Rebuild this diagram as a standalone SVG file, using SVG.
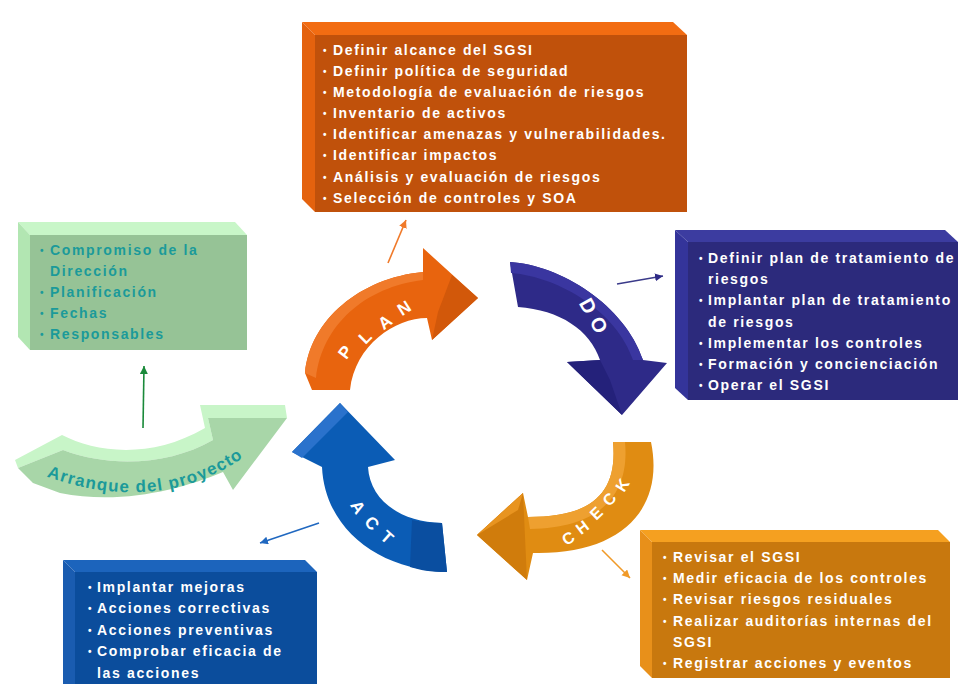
<svg xmlns="http://www.w3.org/2000/svg" width="961" height="684" viewBox="0 0 961 684">
<style>
  .t{font-family:"Liberation Sans",Arial,sans-serif;font-weight:bold;font-size:14px;letter-spacing:1.65px;fill:#ffffff}
  .b{font-family:"Liberation Sans",Arial,sans-serif;font-weight:bold;font-size:10px;fill:#ffffff}
  .g{fill:#1b9a9a}
  .lbl{font-family:"Liberation Sans",Arial,sans-serif;font-weight:bold;font-size:17px;fill:#ffffff;text-anchor:middle}
  .con{fill:none;stroke-width:1.6}
</style>
<defs>
  <marker id="mOr" markerUnits="userSpaceOnUse" markerWidth="9" markerHeight="9" refX="8" refY="4" orient="auto"><path d="M0,0 L8,4 L0,8 Z" fill="#f07a2a"/></marker>
  <marker id="mNv" markerUnits="userSpaceOnUse" markerWidth="9" markerHeight="9" refX="8" refY="4" orient="auto"><path d="M0,0 L8,4 L0,8 Z" fill="#2e2a86"/></marker>
  <marker id="mOr2" markerUnits="userSpaceOnUse" markerWidth="9" markerHeight="9" refX="8" refY="4" orient="auto"><path d="M0,0 L8,4 L0,8 Z" fill="#f09a28"/></marker>
  <marker id="mBl" markerUnits="userSpaceOnUse" markerWidth="9" markerHeight="9" refX="8" refY="4" orient="auto"><path d="M0,0 L8,4 L0,8 Z" fill="#2068c0"/></marker>
  <marker id="mGr" markerUnits="userSpaceOnUse" markerWidth="9" markerHeight="9" refX="8" refY="4" orient="auto"><path d="M0,0 L8,4 L0,8 Z" fill="#1a8a3a"/></marker>
</defs>
<rect width="961" height="684" fill="#ffffff"/>

<!-- PLAN box -->
<g id="box-plan">
  <polygon points="302,22 673,22 687,35 315,35" fill="#f26c12"/>
  <polygon points="302,22 315,35 315,212 302,199" fill="#e4620e"/>
  <rect x="315" y="35" width="372" height="177" fill="#c0510b"/>
  <text class="b" x="323" y="54">•</text><text class="t" x="333" y="55">Definir alcance del SGSI</text>
  <text class="b" x="323" y="75">•</text><text class="t" x="333" y="76">Definir política de seguridad</text>
  <text class="b" x="323" y="96">•</text><text class="t" x="333" y="97">Metodología de evaluación de riesgos</text>
  <text class="b" x="323" y="117">•</text><text class="t" x="333" y="118">Inventario de activos</text>
  <text class="b" x="323" y="138">•</text><text class="t" x="333" y="139">Identificar amenazas y vulnerabilidades.</text>
  <text class="b" x="323" y="159">•</text><text class="t" x="333" y="160">Identificar impactos</text>
  <text class="b" x="323" y="181">•</text><text class="t" x="333" y="182">Análisis y evaluación de riesgos</text>
  <text class="b" x="323" y="202">•</text><text class="t" x="333" y="203">Selección de controles y SOA</text>
</g>

<!-- Start box -->
<g id="box-start">
  <polygon points="18,222 235,222 247,235 30,235" fill="#c8f6c8"/>
  <polygon points="18,222 30,235 30,350 18,337" fill="#b2e6b2"/>
  <rect x="30" y="235" width="217" height="115" fill="#96c396"/>
  <text class="b g" x="40" y="254">•</text><text class="t g" x="50" y="255">Compromiso de la</text>
  <text class="t g" x="50" y="276">Dirección</text>
  <text class="b g" x="40" y="296">•</text><text class="t g" x="50" y="297">Planificación</text>
  <text class="b g" x="40" y="317">•</text><text class="t g" x="50" y="318">Fechas</text>
  <text class="b g" x="40" y="338">•</text><text class="t g" x="50" y="339">Responsables</text>
</g>

<!-- DO box -->
<g id="box-do">
  <polygon points="675,230 945,230 958,242 688,242" fill="#3c3ca0"/>
  <polygon points="675,230 688,242 688,400 675,388" fill="#34349a"/>
  <rect x="688" y="242" width="270" height="158" fill="#2c2a7c"/>
  <text class="b" x="699" y="262">•</text><text class="t" x="708" y="263">Definir plan de tratamiento de</text>
  <text class="t" x="708" y="284">riesgos</text>
  <text class="b" x="699" y="304">•</text><text class="t" x="708" y="305">Implantar plan de tratamiento</text>
  <text class="t" x="708" y="327">de riesgos</text>
  <text class="b" x="699" y="347">•</text><text class="t" x="708" y="348">Implementar los controles</text>
  <text class="b" x="699" y="368">•</text><text class="t" x="708" y="369">Formación y concienciación</text>
  <text class="b" x="699" y="389">•</text><text class="t" x="708" y="390">Operar el SGSI</text>
</g>

<!-- CHECK box -->
<g id="box-check">
  <polygon points="640,530 938,530 950,542 652,542" fill="#f5a020"/>
  <polygon points="640,530 652,542 652,678 640,666" fill="#e8901a"/>
  <rect x="652" y="542" width="298" height="136" fill="#c8780e"/>
  <text class="b" x="663" y="561">•</text><text class="t" x="673" y="562">Revisar el SGSI</text>
  <text class="b" x="663" y="582">•</text><text class="t" x="673" y="583">Medir eficacia de los controles</text>
  <text class="b" x="663" y="603">•</text><text class="t" x="673" y="604">Revisar riesgos residuales</text>
  <text class="b" x="663" y="625">•</text><text class="t" x="673" y="626">Realizar auditorías internas del</text>
  <text class="t" x="673" y="647">SGSI</text>
  <text class="b" x="663" y="667">•</text><text class="t" x="673" y="668">Registrar acciones y eventos</text>
</g>

<!-- ACT box -->
<g id="box-act">
  <polygon points="63,560 305,560 317,572 75,572" fill="#1c64bc"/>
  <polygon points="63,560 75,572 75,684 63,684" fill="#1a5cb0"/>
  <rect x="75" y="572" width="242" height="112" fill="#0b4d9c"/>
  <text class="b" x="88" y="591">•</text><text class="t" x="97" y="592">Implantar mejoras</text>
  <text class="b" x="88" y="612">•</text><text class="t" x="97" y="613">Acciones correctivas</text>
  <text class="b" x="88" y="634">•</text><text class="t" x="97" y="635">Acciones preventivas</text>
  <text class="b" x="88" y="655">•</text><text class="t" x="97" y="656">Comprobar eficacia de</text>
  <text class="t" x="97" y="678">las acciones</text>
</g>

<!-- PLAN arrow -->
<g id="arrow-plan">
  <path d="M305,373 C310,320 360,278 423,272 L423,248 L478,298 L432,340 L427,318 C395,318 355,345 350,390 L312,390 Z" fill="#e8640e"/>
  <path d="M305,373 C310,320 360,278 423,272 L423,280 C365,287 322,325 316,378 Z" fill="#f07a2a"/>
  <polygon points="452,275 478,298 432,340 438,312" fill="#d2580a"/>
  <g class="lbl">
    <text transform="translate(345,352) rotate(-52)" y="6">P</text>
    <text transform="translate(365,337) rotate(-45)" y="6">L</text>
    <text transform="translate(385,322) rotate(-38)" y="6">A</text>
    <text transform="translate(404,308) rotate(-32)" y="6">N</text>
  </g>
</g>

<!-- DO arrow -->
<g id="arrow-do">
  <path d="M510,262 C560,265 625,305 643,360 L667,363 L622,415 L567,362 L600,360 C590,330 560,310 518,307 Z" fill="#2e2a88"/>
  <path d="M510,262 C560,265 625,305 643,360 L633,360 C617,312 560,277 511,273 Z" fill="#3a36a0"/>
  <polygon points="567,362 600,360 610,380 622,415" fill="#24217a"/>
  <g class="lbl" style="font-size:20px">
    <text transform="translate(588,306) rotate(61)" y="7">D</text>
    <text transform="translate(599,325) rotate(64)" y="7">O</text>
  </g>
</g>

<!-- CHECK arrow -->
<g id="arrow-check">
  <path d="M613,442 L651,442 C665,510 620,555 533,553 L527,580 L477,535 L523,493 L528,517 C590,517 618,495 613,442 Z" fill="#e08c12"/>
  <path d="M613,442 L625,442 C630,495 600,528 530,529 L528,517 C590,517 618,495 613,442 Z" fill="#eea030"/>
  <polygon points="477,535 523,493 527,580" fill="#d07c0c"/>
  <polygon points="477,535 523,493 518,510" fill="#e89420"/>
  <g class="lbl" style="font-size:16px">
    <text transform="translate(568,538) rotate(-30)" y="6">C</text>
    <text transform="translate(582,527) rotate(-37)" y="6">H</text>
    <text transform="translate(596,513) rotate(-44)" y="6">E</text>
    <text transform="translate(609,499) rotate(-51)" y="6">C</text>
    <text transform="translate(622,485) rotate(-58)" y="6">K</text>
  </g>
</g>

<!-- ACT arrow -->
<g id="arrow-act">
  <path d="M442,523 L447,572 C380,570 325,530 322,467 L292,452 L340,403 L395,460 L368,467 C370,500 400,522 442,523 Z" fill="#0b5cb5"/>
  <polygon points="292,452 340,403 348,412 302,458" fill="#2a72cc"/>
  <path d="M442,523 L447,572 C430,572 420,570 410,567 L412,520 C420,522 430,523 442,523 Z" fill="#0a4ea0"/>
  <g class="lbl">
    <text transform="translate(358,507) rotate(58)" y="6">A</text>
    <text transform="translate(372,523) rotate(50)" y="6">C</text>
    <text transform="translate(387,537) rotate(42)" y="6">T</text>
  </g>
</g>

<!-- Arranque arrow -->
<g id="arrow-start">
  <path d="M15,460 L62,435 C95,452 150,460 205,428 L200,405 L285,405 L287,418 L208,418 L213,440 C170,465 110,468 63,450 L18,468 Z" fill="#c8f5c8"/>
  <path d="M18,468 L63,450 C110,468 170,465 213,440 L208,418 L287,418 L233,490 L223,472 C180,490 120,505 60,493 L33,483 Z" fill="#a8d6a8"/>
  <path id="tp" d="M40,474 C90,494 150,500 200,480 S250,450 275,422" fill="none"/>
  <text class="t g" style="font-size:17px;letter-spacing:1.2px"><textPath href="#tp" startOffset="7">Arranque del proyecto</textPath></text>
</g>

<!-- connectors -->
<g id="connectors">
  <line class="con" x1="388" y1="263" x2="406" y2="220" stroke="#f07a2a" marker-end="url(#mOr)"/>
  <line class="con" x1="617" y1="284" x2="663" y2="276" stroke="#3a3a8a" marker-end="url(#mNv)"/>
  <line class="con" x1="602" y1="550" x2="630" y2="578" stroke="#f09a28" marker-end="url(#mOr2)"/>
  <line class="con" x1="319" y1="523" x2="260" y2="543" stroke="#2068c0" marker-end="url(#mBl)"/>
  <line class="con" x1="143" y1="428" x2="144" y2="366" stroke="#1a8a3a" marker-end="url(#mGr)"/>
</g>
</svg>
